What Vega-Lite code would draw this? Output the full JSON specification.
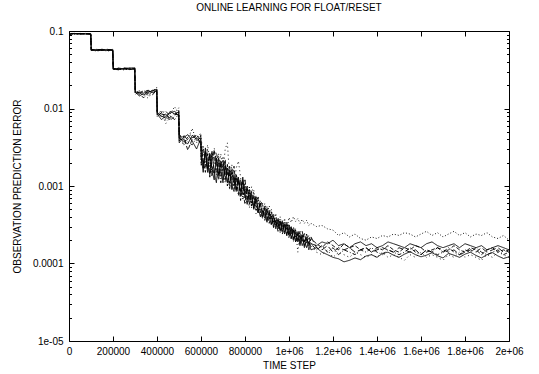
{
"$schema":"https://vega.github.io/schema/vega-lite/v6.json",
"width":440,"height":310,
"autosize":{"type":"none"},
"padding":{"left":69,"top":31,"right":30,"bottom":33},
"background":"white",
"title":{"text":"ONLINE LEARNING FOR FLOAT/RESET","fontSize":10,"fontWeight":"normal","font":"Liberation Sans","color":"black","offset":13,"anchor":"middle","frame":"group"},
"config":{"view":{"stroke":"black","strokeWidth":1},"axis":{"domain":false,"grid":false,"tickColor":"black","tickWidth":1,"labelColor":"black","labelFont":"Liberation Sans","labelFontSize":10,"titleFont":"Liberation Sans","titleFontSize":10,"titleFontWeight":"normal","titleColor":"black","labelFlush":false,"labelOverlap":false}},
"data":{"values":[
{"t":0,"a":0.087,"b":0.086,"c":0.088,"d":0.087,"e":0.088,"f":0.086,"g":0.087},
{"t":8000,"a":0.092,"b":0.091,"c":0.093,"d":0.092,"e":0.093,"f":0.091,"g":0.092},
{"t":25000,"a":0.093,"b":0.092,"c":0.092,"d":0.091,"e":0.093,"f":0.092,"g":0.092},
{"t":50000,"a":0.092,"b":0.093,"c":0.091,"d":0.092,"e":0.092,"f":0.092,"g":0.093},
{"t":75000,"a":0.093,"b":0.092,"c":0.092,"d":0.093,"e":0.091,"f":0.092,"g":0.092},
{"t":99000,"a":0.092,"b":0.093,"c":0.092,"d":0.091,"e":0.092,"f":0.093,"g":0.091},
{"t":101000,"a":0.057,"b":0.056,"c":0.058,"d":0.057,"e":0.056,"f":0.058,"g":0.057},
{"t":125000,"a":0.056,"b":0.058,"c":0.057,"d":0.055,"e":0.057,"f":0.056,"g":0.058},
{"t":150000,"a":0.058,"b":0.057,"c":0.056,"d":0.057,"e":0.058,"f":0.056,"g":0.057},
{"t":175000,"a":0.057,"b":0.055,"c":0.057,"d":0.058,"e":0.056,"f":0.057,"g":0.056},
{"t":199000,"a":0.056,"b":0.057,"c":0.058,"d":0.056,"e":0.057,"f":0.055,"g":0.058},
{"t":201000,"a":0.0325,"b":0.033,"c":0.0318,"d":0.0322,"e":0.0328,"f":0.0315,"g":0.0332},
{"t":225000,"a":0.032,"b":0.0322,"c":0.0332,"d":0.0316,"e":0.0326,"f":0.033,"g":0.0318},
{"t":250000,"a":0.033,"b":0.0315,"c":0.0326,"d":0.0334,"e":0.032,"f":0.0324,"g":0.0328},
{"t":275000,"a":0.0318,"b":0.0328,"c":0.032,"d":0.033,"e":0.0335,"f":0.0318,"g":0.0325},
{"t":299000,"a":0.0328,"b":0.0335,"c":0.0322,"d":0.0318,"e":0.033,"f":0.0326,"g":0.0334},
{"t":301000,"a":0.0165,"b":0.0158,"c":0.017,"d":0.0155,"e":0.0162,"f":0.015,"g":0.0168},
{"t":320000,"a":0.0158,"b":0.0168,"c":0.015,"d":0.0162,"e":0.0145,"f":0.0172,"g":0.016},
{"t":340000,"a":0.015,"b":0.016,"c":0.0138,"d":0.017,"e":0.0158,"f":0.0152,"g":0.0165},
{"t":360000,"a":0.0162,"b":0.0148,"c":0.0158,"d":0.0155,"e":0.0168,"f":0.0135,"g":0.0172},
{"t":380000,"a":0.017,"b":0.0165,"c":0.0172,"d":0.015,"e":0.016,"f":0.0168,"g":0.0158},
{"t":399000,"a":0.0178,"b":0.0188,"c":0.0168,"d":0.0175,"e":0.0172,"f":0.018,"g":0.017},
{"t":401000,"a":0.0088,"b":0.0082,"c":0.009,"d":0.0078,"e":0.0085,"f":0.008,"g":0.0092},
{"t":420000,"a":0.008,"b":0.0095,"c":0.0078,"d":0.0088,"e":0.0072,"f":0.009,"g":0.0085},
{"t":440000,"a":0.0075,"b":0.007,"c":0.0085,"d":0.0092,"e":0.008,"f":0.0064,"g":0.0082},
{"t":460000,"a":0.0092,"b":0.0085,"c":0.007,"d":0.008,"e":0.0088,"f":0.0078,"g":0.0075},
{"t":480000,"a":0.0085,"b":0.0105,"c":0.008,"d":0.0072,"e":0.0092,"f":0.0088,"g":0.0085},
{"t":499000,"a":0.009,"b":0.0088,"c":0.0095,"d":0.0085,"e":0.008,"f":0.0102,"g":0.0082},
{"t":501000,"a":0.0042,"b":0.0048,"c":0.0038,"d":0.0045,"e":0.0036,"f":0.005,"g":0.004},
{"t":520000,"a":0.0038,"b":0.0035,"c":0.0044,"d":0.004,"e":0.0042,"f":0.0033,"g":0.0046},
{"t":540000,"a":0.0035,"b":0.004,"c":0.0029,"d":0.0037,"e":0.0046,"f":0.0043,"g":0.0039},
{"t":560000,"a":0.0045,"b":0.0055,"c":0.004,"d":0.0034,"e":0.0038,"f":0.0047,"g":0.0042},
{"t":580000,"a":0.004,"b":0.0038,"c":0.0046,"d":0.0042,"e":0.003,"f":0.0036,"g":0.0044},
{"t":599000,"a":0.0036,"b":0.0044,"c":0.0039,"d":0.0048,"e":0.0041,"f":0.0045,"g":0.0035},
{"t":601000,"a":0.003,"b":0.002,"c":0.0034,"d":0.0018,"e":0.0024,"f":0.004,"g":0.0022},
{"t":610000,"a":0.0017,"b":0.0033,"c":0.0021,"d":0.003,"e":0.0015,"f":0.0026,"g":0.0019},
{"t":620000,"a":0.0028,"b":0.0018,"c":0.0015,"d":0.0024,"e":0.0031,"f":0.0017,"g":0.0027},
{"t":630000,"a":0.0015,"b":0.003,"c":0.0026,"d":0.0016,"e":0.0019,"f":0.0034,"g":0.0017},
{"t":640000,"a":0.0026,"b":0.0016,"c":0.0013,"d":0.0027,"e":0.0014,"f":0.0022,"g":0.0025},
{"t":650000,"a":0.0016,"b":0.0027,"c":0.0022,"d":0.0014,"e":0.0028,"f":0.0013,"g":0.0018},
{"t":660000,"a":0.0012,"b":0.0022,"c":0.0029,"d":0.0021,"e":0.0015,"f":0.0031,"g":0.0014},
{"t":670000,"a":0.0023,"b":0.0014,"c":0.0017,"d":0.0027,"e":0.0011,"f":0.0021,"g":0.0023},
{"t":680000,"a":0.0014,"b":0.0026,"c":0.0012,"d":0.0019,"e":0.0023,"f":0.0014,"g":0.0013},
{"t":690000,"a":0.0021,"b":0.0013,"c":0.002,"d":0.0011,"e":0.0015,"f":0.0026,"g":0.0019},
{"t":700000,"a":0.0012,"b":0.0024,"c":0.0016,"d":0.0019,"e":0.0011,"f":0.0015,"g":0.0022},
{"t":710000,"a":0.0018,"b":0.0011,"c":0.0022,"d":0.0013,"e":0.0019,"f":0.003,"g":0.0012},
{"t":720000,"a":0.0011,"b":0.0017,"c":0.001,"d":0.0019,"e":0.0014,"f":0.0036,"g":0.0017},
{"t":730000,"a":0.0016,"b":0.001,"c":0.0015,"d":0.0009,"e":0.0018,"f":0.0013,"g":0.0011},
{"t":740000,"a":0.0009,"b":0.0017,"c":0.0012,"d":0.0016,"e":0.001,"f":0.0019,"g":0.0015},
{"t":750000,"a":0.0014,"b":0.0009,"c":0.0018,"d":0.001,"e":0.00085,"f":0.001,"g":0.0013},
{"t":760000,"a":0.00085,"b":0.0014,"c":0.0009,"d":0.0013,"e":0.0014,"f":0.0017,"g":0.0009},
{"t":770000,"a":0.0013,"b":0.0008,"c":0.0012,"d":0.00075,"e":0.0011,"f":0.0021,"g":0.0013},
{"t":780000,"a":0.00075,"b":0.0012,"c":0.00065,"d":0.0012,"e":0.00085,"f":0.0013,"g":0.0009},
{"t":790000,"a":0.0012,"b":0.0007,"c":0.0011,"d":0.00085,"e":0.0013,"f":0.00065,"g":0.0008},
{"t":800000,"a":0.0007,"b":0.0011,"c":0.0008,"d":0.00058,"e":0.00075,"f":0.001,"g":0.0012},
{"t":810000,"a":0.00095,"b":0.00062,"c":0.001,"d":0.00092,"e":0.00058,"f":0.00078,"g":0.00068},
{"t":820000,"a":0.00058,"b":0.001,"c":0.00065,"d":0.00078,"e":0.0009,"f":0.00052,"g":0.00082},
{"t":830000,"a":0.0008,"b":0.00052,"c":0.00085,"d":0.00055,"e":0.00068,"f":0.00098,"g":0.0006},
{"t":840000,"a":0.00052,"b":0.00088,"c":0.0005,"d":0.00075,"e":0.00052,"f":0.00078,"g":0.00072},
{"t":850000,"a":0.00072,"b":0.00048,"c":0.00075,"d":0.00052,"e":0.00068,"f":0.00044,"g":0.00058},
{"t":860000,"a":0.00045,"b":0.00074,"c":0.00066,"d":0.00045,"e":0.00052,"f":0.0007,"g":0.00048},
{"t":870000,"a":0.0006,"b":0.00042,"c":0.00048,"d":0.00065,"e":0.0004,"f":0.00056,"g":0.0006},
{"t":880000,"a":0.0004,"b":0.0006,"c":0.00038,"d":0.00056,"e":0.00048,"f":0.0004,"g":0.00046},
{"t":890000,"a":0.00055,"b":0.0004,"c":0.00052,"d":0.00036,"e":0.00044,"f":0.0006,"g":0.00039},
{"t":900000,"a":0.00036,"b":0.00055,"c":0.00042,"d":0.00052,"e":0.00034,"f":0.00042,"g":0.0005},
{"t":910000,"a":0.00048,"b":0.00036,"c":0.00033,"d":0.00046,"e":0.00044,"f":0.00056,"g":0.00037},
{"t":920000,"a":0.00032,"b":0.0005,"c":0.00041,"d":0.00031,"e":0.0004,"f":0.00036,"g":0.00046},
{"t":930000,"a":0.00041,"b":0.00032,"c":0.00029,"d":0.00042,"e":0.0003,"f":0.00045,"g":0.00034},
{"t":940000,"a":0.00028,"b":0.00044,"c":0.00036,"d":0.0003,"e":0.00036,"f":0.00029,"g":0.0004},
{"t":950000,"a":0.00036,"b":0.00029,"c":0.00026,"d":0.00039,"e":0.00028,"f":0.00038,"g":0.0003},
{"t":960000,"a":0.00026,"b":0.0004,"c":0.00034,"d":0.00027,"e":0.00035,"f":0.00025,"g":0.00037},
{"t":970000,"a":0.00034,"b":0.00028,"c":0.00024,"d":0.00036,"e":0.00026,"f":0.00035,"g":0.00028},
{"t":980000,"a":0.00024,"b":0.00038,"c":0.00032,"d":0.00025,"e":0.00032,"f":0.00024,"g":0.00035},
{"t":990000,"a":0.00032,"b":0.00027,"c":0.00023,"d":0.00034,"e":0.00023,"f":0.00034,"g":0.00026},
{"t":1000000,"a":0.00023,"b":0.00039,"c":0.0003,"d":0.00022,"e":0.00029,"f":0.00021,"g":0.00033},
{"t":1010000,"a":0.00029,"b":0.00034,"c":0.00021,"d":0.0003,"e":0.00021,"f":0.00031,"g":0.00024},
{"t":1020000,"a":0.0002,"b":0.0004,"c":0.00028,"d":0.00021,"e":0.00027,"f":0.00019,"g":0.0003},
{"t":1030000,"a":0.00025,"b":0.00035,"c":0.00019,"d":0.00027,"e":0.00019,"f":0.00028,"g":0.00022},
{"t":1040000,"a":0.00019,"b":0.00038,"c":0.00024,"d":0.0002,"e":0.00025,"f":0.00014,"g":0.00027},
{"t":1050000,"a":0.00023,"b":0.00033,"c":0.00018,"d":0.00026,"e":0.00017,"f":0.00025,"g":0.0002},
{"t":1060000,"a":0.00017,"b":0.00037,"c":0.00023,"d":0.00019,"e":0.00023,"f":0.00019,"g":0.00026},
{"t":1070000,"a":0.0002,"b":0.00033,"c":0.00017,"d":0.00025,"e":0.00016,"f":0.00024,"g":0.00019},
{"t":1080000,"a":0.00016,"b":0.00036,"c":0.00022,"d":0.00018,"e":0.00021,"f":0.00018,"g":0.00024},
{"t":1090000,"a":0.00019,"b":0.00031,"c":0.00017,"d":0.00023,"e":0.00015,"f":0.00022,"g":0.00018},
{"t":1100000,"a":0.00015,"b":0.00033,"c":0.00021,"d":0.00018,"e":0.00018,"f":0.00017,"g":0.00022},
{"t":1125000,"a":0.00016,"b":0.0003,"c":0.00018,"d":0.00015,"e":0.00017,"f":0.00014,"g":0.00016},
{"t":1150000,"a":0.00014,"b":0.00031,"c":0.00016,"d":0.00017,"e":0.00019,"f":0.00013,"g":0.00015},
{"t":1175000,"a":0.00013,"b":0.00028,"c":0.00019,"d":0.00014,"e":0.00018,"f":0.00015,"g":0.00017},
{"t":1200000,"a":0.00012,"b":0.00027,"c":0.00017,"d":0.00016,"e":0.0002,"f":0.00012,"g":0.00014},
{"t":1225000,"a":0.000115,"b":0.00023,"c":0.00015,"d":0.00013,"e":0.00017,"f":0.00014,"g":0.00016},
{"t":1250000,"a":0.000105,"b":0.00025,"c":0.00018,"d":0.00015,"e":0.00018,"f":0.00013,"g":0.00015},
{"t":1275000,"a":0.00011,"b":0.00022,"c":0.00016,"d":0.00014,"e":0.00016,"f":0.00012,"g":0.00016},
{"t":1300000,"a":0.000118,"b":0.00024,"c":0.00017,"d":0.00013,"e":0.00018,"f":0.00014,"g":0.00014},
{"t":1325000,"a":0.000112,"b":0.00021,"c":0.00015,"d":0.00015,"e":0.00019,"f":0.00013,"g":0.00015},
{"t":1350000,"a":0.000125,"b":0.0002,"c":0.00016,"d":0.00014,"e":0.00017,"f":0.00012,"g":0.00016},
{"t":1375000,"a":0.00013,"b":0.00022,"c":0.00014,"d":0.00016,"e":0.00018,"f":0.00013,"g":0.00014},
{"t":1400000,"a":0.00012,"b":0.00021,"c":0.00016,"d":0.00014,"e":0.00016,"f":0.00012,"g":0.00015},
{"t":1425000,"a":0.000135,"b":0.00023,"c":0.00015,"d":0.00013,"e":0.00017,"f":0.00014,"g":0.00016},
{"t":1450000,"a":0.00014,"b":0.00022,"c":0.00017,"d":0.00015,"e":0.00019,"f":0.00012,"g":0.00015},
{"t":1475000,"a":0.000128,"b":0.00024,"c":0.00015,"d":0.00014,"e":0.00018,"f":0.00013,"g":0.00014},
{"t":1500000,"a":0.00012,"b":0.00023,"c":0.00014,"d":0.00013,"e":0.00017,"f":0.00012,"g":0.00016},
{"t":1525000,"a":0.000132,"b":0.00025,"c":0.00016,"d":0.00014,"e":0.00016,"f":0.00011,"g":0.00015},
{"t":1550000,"a":0.000142,"b":0.00024,"c":0.00015,"d":0.00016,"e":0.00018,"f":0.00013,"g":0.00014},
{"t":1575000,"a":0.00013,"b":0.00022,"c":0.00017,"d":0.00014,"e":0.00017,"f":0.00012,"g":0.00015},
{"t":1600000,"a":0.000122,"b":0.00024,"c":0.00016,"d":0.00013,"e":0.00016,"f":0.00014,"g":0.00013},
{"t":1625000,"a":0.000128,"b":0.00026,"c":0.00014,"d":0.00015,"e":0.00018,"f":0.00012,"g":0.00015},
{"t":1650000,"a":0.000138,"b":0.00023,"c":0.00015,"d":0.00014,"e":0.00019,"f":0.00013,"g":0.00014},
{"t":1675000,"a":0.000126,"b":0.00025,"c":0.00016,"d":0.00013,"e":0.00017,"f":0.00012,"g":0.00016},
{"t":1700000,"a":0.000118,"b":0.00022,"c":0.00014,"d":0.00014,"e":0.00016,"f":0.00011,"g":0.00015},
{"t":1725000,"a":0.000135,"b":0.00024,"c":0.00015,"d":0.00016,"e":0.00017,"f":0.00013,"g":0.00014},
{"t":1750000,"a":0.000128,"b":0.00026,"c":0.00017,"d":0.00014,"e":0.00018,"f":0.00012,"g":0.00015},
{"t":1775000,"a":0.00012,"b":0.00023,"c":0.00015,"d":0.00013,"e":0.00016,"f":0.00014,"g":0.00013},
{"t":1800000,"a":0.000132,"b":0.00025,"c":0.00014,"d":0.00015,"e":0.00018,"f":0.00012,"g":0.00014},
{"t":1825000,"a":0.00014,"b":0.00022,"c":0.00016,"d":0.00014,"e":0.00017,"f":0.00013,"g":0.00015},
{"t":1850000,"a":0.000127,"b":0.00024,"c":0.00015,"d":0.00016,"e":0.00016,"f":0.00012,"g":0.00014},
{"t":1875000,"a":0.000118,"b":0.00023,"c":0.00013,"d":0.00014,"e":0.00017,"f":0.00011,"g":0.00016},
{"t":1900000,"a":0.00013,"b":0.00025,"c":0.00015,"d":0.00013,"e":0.00015,"f":0.00013,"g":0.00014},
{"t":1925000,"a":0.000138,"b":0.00022,"c":0.00016,"d":0.00014,"e":0.00016,"f":0.00012,"g":0.00015},
{"t":1950000,"a":0.000125,"b":0.00021,"c":0.00014,"d":0.00015,"e":0.00017,"f":0.00014,"g":0.00016},
{"t":1975000,"a":0.000116,"b":0.00023,"c":0.00015,"d":0.00013,"e":0.00016,"f":0.00013,"g":0.00014},
{"t":2000000,"a":0.000122,"b":0.0002,"c":0.00014,"d":0.00014,"e":0.00015,"f":0.00012,"g":0.00015}
]},
"transform":[{"fold":["a","b","c","d","e","f","g"],"as":["s","v"]}],
"layer":[
{"mark":{"type":"line","color":"black","strokeWidth":0.9,"clip":true},
 "encoding":{
  "x":{"field":"t","type":"quantitative","scale":{"domain":[0,2000000],"nice":false},
       "axis":{"orient":"bottom","values":[0,200000,400000,600000,800000,1000000,1200000,1400000,1600000,1800000,2000000],"tickSize":-5,"labelPadding":10,"labelExpr":"datum.value<1000000?format(datum.value,'d'):(datum.value/1000000)+'e+06'","title":"TIME STEP","titlePadding":4}},
  "y":{"field":"v","type":"quantitative","scale":{"type":"log","domain":[0.00001,0.1],"nice":false},
       "axis":{"orient":"left","values":[0.1,0.01,0.001,0.0001,0.00001],"tickSize":-5,"labelPadding":11,"labelExpr":"datum.value>0.00005?format(datum.value,''):'1e-05'","title":"OBSERVATION PREDICTION ERROR","titlePadding":10}},
  "strokeDash":{"field":"s","type":"nominal","scale":{"domain":["a","b","c","d","e","f","g"],"range":[[1,0],[1,2],[4,2],[4,2,1,2],[1,0],[1,3],[6,3]]},"legend":null}
 }},
{"mark":{"type":"line","opacity":0},
 "encoding":{
  "x":{"field":"t","type":"quantitative","axis":{"orient":"top","values":[0,200000,400000,600000,800000,1000000,1200000,1400000,1600000,1800000,2000000],"tickSize":-5,"labels":false,"title":null}},
  "y":{"field":"v","type":"quantitative","axis":{"orient":"right","values":[0.1,0.01,0.001,0.0001,0.00001],"tickSize":-5,"labels":false,"title":null}},
  "detail":{"field":"s"}
 }},
{"mark":{"type":"line","opacity":0},
 "encoding":{
  "x":{"field":"t","type":"quantitative","axis":null},
  "y":{"field":"v","type":"quantitative","axis":{"orient":"left","values":[0.00002,0.00003,0.00004,0.00005,0.00006,0.00007,0.00008,0.00009,0.0002,0.0003,0.0004,0.0005,0.0006,0.0007,0.0008,0.0009,0.002,0.003,0.004,0.005,0.006,0.007,0.008,0.009,0.02,0.03,0.04,0.05,0.06,0.07,0.08,0.09],"tickSize":-2.5,"labels":false,"title":null}},
  "detail":{"field":"s"}
 }},
{"mark":{"type":"line","opacity":0},
 "encoding":{
  "x":{"field":"t","type":"quantitative","axis":null},
  "y":{"field":"v","type":"quantitative","axis":{"orient":"right","values":[0.00002,0.00003,0.00004,0.00005,0.00006,0.00007,0.00008,0.00009,0.0002,0.0003,0.0004,0.0005,0.0006,0.0007,0.0008,0.0009,0.002,0.003,0.004,0.005,0.006,0.007,0.008,0.009,0.02,0.03,0.04,0.05,0.06,0.07,0.08,0.09],"tickSize":-2.5,"labels":false,"title":null}},
  "detail":{"field":"s"}
 }}
],
"resolve":{"axis":{"x":"independent","y":"independent"}}
}
